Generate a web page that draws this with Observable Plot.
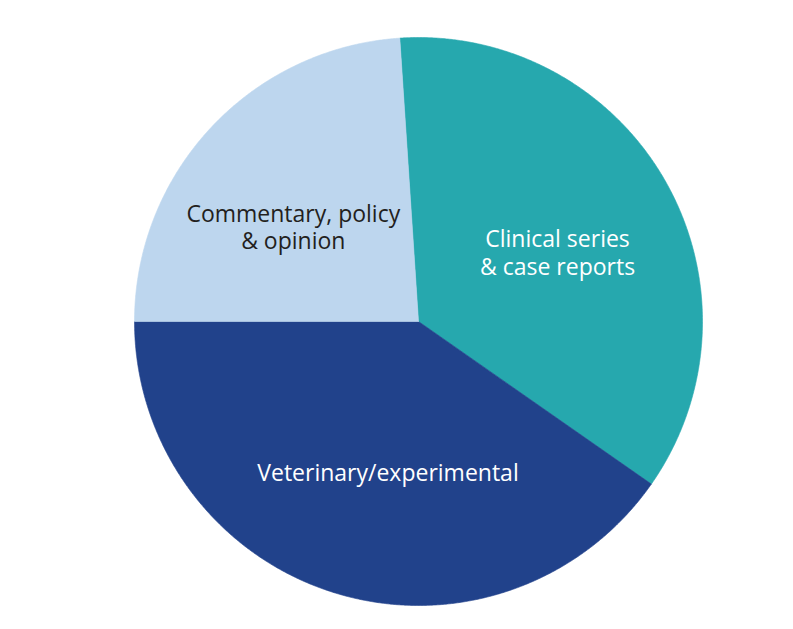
<!DOCTYPE html>
<html>
<head>
<meta charset="utf-8">
<script src="https://cdn.jsdelivr.net/npm/d3@7"></script>
<script src="https://cdn.jsdelivr.net/npm/@observablehq/plot@0.6"></script>
<style>
  html, body { margin: 0; padding: 0; background: #ffffff; }
  #chart svg { display: block; }
</style>
</head>
<body>
<div id="chart"></div>
<script>
// Data (share of publications, %)
const categories = ["Clinical series\n& case reports", "Veterinary/experimental", "Commentary, policy\n& opinion"];
const values = [35.75, 40.3, 23.95];
const colors = ["#26a8ae", "#21428b", "#bdd6ee"];
const labelColors = ["#ffffff", "#ffffff", "#231f20"];

const startDeg = -3.78;
const pie = d3.pie().sort(null).value(d => d.value)
  .startAngle(startDeg * Math.PI / 180)
  .endAngle((startDeg + 360) * Math.PI / 180);
const arcs = pie(categories.map((c, i) => ({name: c, value: values[i], i})));

// polygon points for each slice (angle clockwise from north)
const pts = [];
for (const a of arcs) {
  const name = a.data.name;
  pts.push({name, x: 0, y: 0});
  const n = Math.max(2, Math.ceil((a.endAngle - a.startAngle) / 0.005));
  for (let k = 0; k <= n; k++) {
    const t = a.startAngle + (a.endAngle - a.startAngle) * k / n;
    pts.push({name, x: Math.sin(t), y: Math.cos(t)});
  }
  pts.push({name, x: 0, y: 0});
}

const labelR = 0.546;
const labels = arcs.map(a => {
  const m = (a.startAngle + a.endAngle) / 2;
  return {name: a.data.name, x: labelR * Math.sin(m), y: labelR * Math.cos(m), color: labelColors[a.data.i]};
});
const offsets = [[4, 7], [16, 3], [-12, 11]];

const textMarks = labels.map((l, i) => Plot.text([l], {
  x: "x", y: "y", text: "name", fill: "color",
  fontSize: 23, lineHeight: 1.2,
  fontFamily: "'Open Sans', 'Noto Sans', sans-serif",
  dx: offsets[i][0], dy: offsets[i][1]
}));

const chart = Plot.plot({
  width: 793,
  height: 629,
  marginLeft: 134,
  marginRight: 91,
  marginTop: 37,
  marginBottom: 24,
  x: {domain: [-1, 1], axis: null},
  y: {domain: [-1, 1], axis: null},
  color: {domain: categories, range: colors},
  style: {background: "#ffffff", fontFamily: "'Open Sans', sans-serif"},
  marks: [
    Plot.line(pts, {x: "x", y: "y", z: "name", fill: "name", stroke: "name", strokeWidth: 0.6, curve: "linear"}),
    ...textMarks
  ]
});
document.getElementById("chart").appendChild(chart);
</script>
</body>
</html>
